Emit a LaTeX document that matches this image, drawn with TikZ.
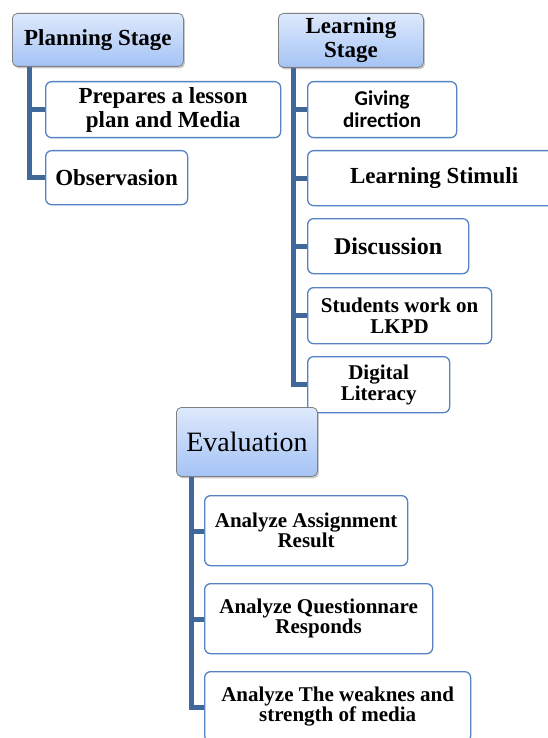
\documentclass[tikz,border=0pt]{standalone}
\usepackage{fontspec}
\setmainfont{Liberation Serif}
\newfontfamily\calfont{Carlito}
\usetikzlibrary{shadows}
\definecolor{barblue}{RGB}{65,104,155}
\definecolor{boxblue}{RGB}{84,130,194}
\definecolor{hdtop}{RGB}{222,233,252}
\definecolor{hdbot}{RGB}{164,195,245}
\definecolor{hdborder}{RGB}{128,128,128}
\tikzset{
  header/.style={draw=hdborder, line width=0.8pt, rounded corners=5pt,
    top color=hdtop, bottom color=hdbot, anchor=north west, align=center, inner sep=0pt,
    drop shadow={shadow xshift=1.5pt, shadow yshift=-2pt, opacity=0.35, fill=black!60}},
  child/.style={draw=boxblue, line width=1.3pt, rounded corners=6pt, fill=white,
    anchor=north west, align=center, inner sep=0pt},
  bar/.style={draw=barblue, line width=5pt, line join=miter},
  fA/.style={font=\fontsize{23}{24}\selectfont\bfseries},
  fB/.style={font=\fontsize{21}{21}\selectfont\bfseries},
  fC/.style={font=\fontsize{21}{20}\selectfont\bfseries},
}
\begin{document}
\begin{tikzpicture}[x=1pt,y=1pt]
\useasboundingbox (0,0) rectangle (548,-738);
\clip (0,0) rectangle (548,-738);
% Planning stage
\node[header, fA, minimum width=171, minimum height=53] (ps) at (12,-13) {Planning Stage};
\node[child, fA, minimum width=235, minimum height=56] (prep) at (45,-81) {Prepares a lesson\\plan and Media};
\node[child, fA, minimum width=142, minimum height=54] (obs) at (45,-150) {Observasion};
\draw[bar] ([xshift=17]ps.south west) |- (prep.west);
\draw[bar] ([xshift=17]ps.south west) |- (obs.west);
% Learning stage
\node[header, fA, minimum width=145, minimum height=54] (ls) at (278,-13) {Learning\\Stage};
\node[child, font=\calfont\fontsize{21}{22}\selectfont\bfseries, minimum width=149, minimum height=56] (give) at (307,-81) {Giving\\direction};
\node[child, fA, minimum width=253, minimum height=55] (stim) at (307,-150) {Learning Stimuli};
\node[child, font=\fontsize{24}{24}\selectfont\bfseries, minimum width=161, minimum height=55] (disc) at (307,-218) {Discussion};
\node[child, fB, minimum width=184, minimum height=56] (stud) at (307,-287) {Students work on\\LKPD};
\node[child, fB, minimum width=142, minimum height=56] (dig) at (307,-356) {Digital\\Literacy};
\foreach \c in {give,stim,disc,stud,dig}
  \draw[bar] ([xshift=15]ls.south west) |- (\c.west);
% Evaluation
\node[header, font=\fontsize{28}{28}\selectfont, minimum width=141, minimum height=69] (ev) at (176,-407) {Evaluation};
\node[child, fC, minimum width=203, minimum height=70] (a1) at (204,-495) {Analyze Assignment\\Result};
\node[child, fC, minimum width=228, minimum height=70] (a2) at (204,-583) {Analyze Questionnare\\Responds};
\node[child, fC, minimum width=266, minimum height=70] (a3) at (204,-671) {Analyze The weaknes and\\strength of media};
\foreach \c in {a1,a2,a3}
  \draw[bar] ([xshift=15]ev.south west) |- ([yshift=-1]\c.west);
\end{tikzpicture}
\end{document}
